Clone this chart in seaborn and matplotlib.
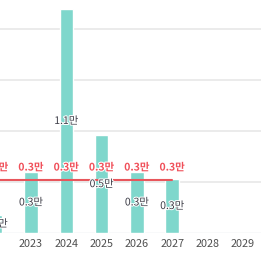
import matplotlib
matplotlib.use("Agg")
import matplotlib.pyplot as plt
import matplotlib.patheffects as pe
import seaborn as sns
import pandas as pd
import numpy as np

years = ["2022", "2023", "2024", "2025", "2026", "2027", "2028", "2029"]
bar_values = [0.09, 0.30, 1.10, 0.48, 0.30, 0.265, 0.0, 0.0]
bar_labels = ["0.1만", "0.3만", "1.1만", "0.5만", "0.3만", "0.3만", "", ""]
line_years = ["2022", "2023", "2024", "2025", "2026", "2027"]
line_values = [0.26, 0.26, 0.26, 0.26, 0.26, 0.26]
line_labels = ["0.3만", "0.3만", "0.3만", "0.3만", "0.3만", "0.3만"]

sns.set_theme(style="white")
plt.rcParams["font.family"] = ["Noto Sans CJK KR", "DejaVu Sans"]

df = pd.DataFrame({"year": years, "value": bar_values})

fig = plt.figure(figsize=(2.61, 2.54), dpi=100)
ax = fig.add_axes([0, 21 / 254, 1, 233 / 254])

for g in [0.25, 0.5, 0.75, 1.0]:
    ax.axhline(g, color="#ebebeb", lw=1.4, zorder=0)
ax.axhline(0, color="#dde1e6", lw=1.0, zorder=0)

sns.barplot(data=df, x="year", y="value", order=years, color="#7fd7cc",
            saturation=1, width=0.38, ax=ax, zorder=2)

xpos = [years.index(y) for y in line_years]
sns.lineplot(x=xpos, y=line_values, color="#e8565c", lw=1.5, ax=ax, zorder=3)

outline = [pe.withStroke(linewidth=1.5, foreground="white")]
for i, (v, lab) in enumerate(zip(bar_values, bar_labels)):
    if lab:
        ax.text(i, v / 2, lab, ha="center", va="center", fontsize=7.5,
                color="#3c3c46", fontweight="medium", zorder=4,
                path_effects=outline, clip_on=False)

for x, v, lab in zip(xpos, line_values, line_labels):
    ax.annotate(lab, (x, v), xytext=(0, 9), textcoords="offset points",
                ha="center", va="center", fontsize=7.5, color="#f0505a",
                fontweight="bold", zorder=5, path_effects=outline,
                annotation_clip=False)

ax.set_xlim(0.122, 7.516)
ax.set_ylim(0, 1.144)
ax.set_xlabel("")
ax.set_ylabel("")
ax.set_yticks([])
ax.tick_params(axis="x", length=0, pad=4, labelsize=7.8, labelcolor="#505050")
for s in ax.spines.values():
    s.set_visible(False)

fig.savefig("out.png", dpi=100)
